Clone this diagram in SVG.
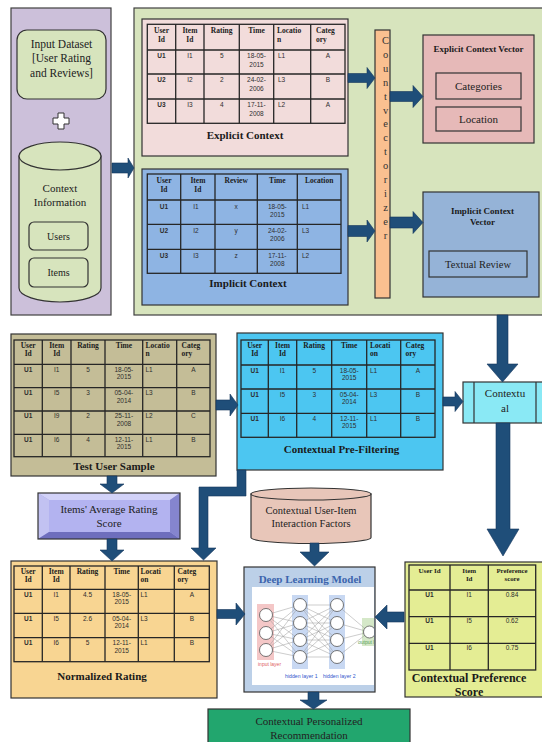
<svg xmlns="http://www.w3.org/2000/svg" width="542" height="742" viewBox="0 0 542 742">
<style>
.pn{stroke:#404040;stroke-width:1.2}
.bx{stroke:#333;stroke-width:1.2}
.grid{fill:none;stroke:#262626;stroke-width:1.3}
.arr{fill:#1f4e79;stroke:#16365c;stroke-width:0.6}
.th{font-family:"Liberation Serif",serif;font-weight:bold;font-size:7.5px;fill:#1c1c1c;text-anchor:middle}
.td{font-family:"Liberation Sans",sans-serif;font-size:6.5px;fill:#2e2e2e;text-anchor:middle}
.tb{font-weight:bold}
.ttl{font-family:"Liberation Serif",serif;font-weight:bold;font-size:11px;fill:#1a1a1a;text-anchor:middle}
.lbl{font-family:"Liberation Serif",serif;font-size:11px;fill:#222;text-anchor:middle}
.l{text-anchor:start}
.node{fill:#fff;stroke:#555;stroke-width:0.8}
.nn{font-family:"Liberation Sans",sans-serif;font-size:5.2px}
</style>
<defs>
<clipPath id="dlclip"><rect x="252" y="587" width="122" height="98"/></clipPath>
</defs>
<rect width="542" height="742" fill="#fff"/>

<g id="left-panel">
<rect x="11" y="8" width="100" height="307" fill="#ccc0da" class="pn"/>
</g>
<g id="input-dataset">
<rect x="17" y="30" width="89" height="69" rx="10" fill="#d7e4bd" class="bx"/>
<text class="lbl" x="61.5" y="48" style="font-size:11.5px">Input Dataset</text>
<text class="lbl" x="61.5" y="62" style="font-size:11.5px">[User Rating</text>
<text class="lbl" x="61.5" y="76.5" style="font-size:11.5px">and Reviews]</text>
</g>
<g id="plus">
<path d="M58 113H64V118H69V124H64V129H58V124H53V118H58Z" fill="#fff" stroke="#333" stroke-width="1"/>
</g>
<g id="context-info">
<path d="M19 156V288A41 14 0 0 0 101 288V156Z" fill="#d7e4bd" class="bx"/>
<ellipse cx="60" cy="156" rx="41" ry="14" fill="#d7e4bd" class="bx"/>
<text class="lbl" x="60" y="192">Context</text>
<text class="lbl" x="60" y="206">Information</text>
<rect x="29" y="222" width="59" height="28" rx="5" fill="#d7e4bd" class="bx"/>
<text class="lbl" x="58.5" y="240" style="font-size:10px">Users</text>
<rect x="29" y="258" width="59" height="29" rx="5" fill="#d7e4bd" class="bx"/>
<text class="lbl" x="58.5" y="276" style="font-size:10px">Items</text>
</g>

<g id="green-panel">
<rect x="134" y="8" width="416" height="307" fill="#d7e4bd" class="pn"/>
</g>

<g id="explicit-context">
<rect x="142" y="19" width="206" height="137" fill="#f2dcdb" class="bx"/>
<rect x="147.3" y="24.3" width="197.7" height="99" class="grid"/>
<path class="grid" d="M175.7 24.3V123.3M204 24.3V123.3M239.3 24.3V123.3M273.7 24.3V123.3M310.7 24.3V123.3M147.3 50H345M147.3 74H345M147.3 99H345"/>
<text class="th" x="161.5" y="33">User</text><text class="th" x="161.5" y="42">Id</text>
<text class="th" x="189.9" y="33">Item</text><text class="th" x="189.9" y="42">Id</text>
<text class="th" x="221.7" y="33">Rating</text>
<text class="th" x="256.5" y="33">Time</text>
<text class="th l" x="277" y="33">Locatio</text><text class="th l" x="277" y="42">n</text>
<text class="th l" x="316" y="33">Categ</text><text class="th l" x="316" y="42">ory</text>
<text class="td tb" x="161.5" y="58">U1</text><text class="td" x="189.9" y="58">I1</text><text class="td" x="221.7" y="58">5</text><text class="td" x="256.5" y="58">18-05-</text><text class="td" x="256.5" y="66.5">2015</text><text class="td l" x="278" y="58">L1</text><text class="td" x="327.9" y="58">A</text>
<text class="td tb" x="161.5" y="82">U2</text><text class="td" x="189.9" y="82">I2</text><text class="td" x="221.7" y="82">2</text><text class="td" x="256.5" y="82">24-02-</text><text class="td" x="256.5" y="90.5">2006</text><text class="td l" x="278" y="82">L3</text><text class="td" x="327.9" y="82">B</text>
<text class="td tb" x="161.5" y="107">U3</text><text class="td" x="189.9" y="107">I3</text><text class="td" x="221.7" y="107">4</text><text class="td" x="256.5" y="107">17-11-</text><text class="td" x="256.5" y="115.5">2008</text><text class="td l" x="278" y="107">L2</text><text class="td" x="327.9" y="107">A</text>
<text class="ttl" x="245" y="139">Explicit Context</text>
</g>

<g id="implicit-context">
<rect x="142" y="169" width="206" height="136" fill="#8eb4e3" class="bx"/>
<rect x="147.3" y="174" width="193.7" height="99.3" class="grid"/>
<path class="grid" d="M180.7 174V273.3M215 174V273.3M257.3 174V273.3M297.3 174V273.3M147.3 200H341M147.3 224.3H341M147.3 249.3H341"/>
<text class="th" x="164" y="183">User</text><text class="th" x="164" y="192">Id</text>
<text class="th" x="197.9" y="183">Item</text><text class="th" x="197.9" y="192">Id</text>
<text class="th" x="236.2" y="183">Review</text>
<text class="th" x="277.3" y="183">Time</text>
<text class="th" x="319.2" y="183">Location</text>
<text class="td tb" x="164" y="208.5">U1</text><text class="td" x="196" y="208.5">I1</text><text class="td" x="236.2" y="208.5">x</text><text class="td" x="277.3" y="208.5">18-05-</text><text class="td" x="277.3" y="217">2015</text><text class="td l" x="302" y="208.5">L1</text>
<text class="td tb" x="164" y="232.8">U2</text><text class="td" x="196" y="232.8">I2</text><text class="td" x="236.2" y="232.8">y</text><text class="td" x="277.3" y="232.8">24-02-</text><text class="td" x="277.3" y="241.3">2006</text><text class="td l" x="302" y="232.8">L3</text>
<text class="td tb" x="164" y="257.8">U3</text><text class="td" x="196" y="257.8">I3</text><text class="td" x="236.2" y="257.8">z</text><text class="td" x="277.3" y="257.8">17-11-</text><text class="td" x="277.3" y="266.3">2008</text><text class="td l" x="302" y="257.8">L2</text>
<text class="ttl" x="248" y="287">Implicit Context</text>
</g>

<g id="count-vectorizer">
<rect x="375" y="30" width="15" height="268" fill="#fac090" class="bx"/>
<g font-family="Liberation Serif, serif" font-size="10.5" fill="#333" text-anchor="middle">
<text x="385.5" y="44">C</text><text x="385.5" y="57.9">o</text><text x="385.5" y="71.8">u</text><text x="385.5" y="85.7">n</text><text x="385.5" y="99.6">t</text><text x="385.5" y="113.5">v</text><text x="385.5" y="127.4">e</text><text x="385.5" y="141.3">c</text><text x="385.5" y="155.2">t</text><text x="385.5" y="169.1">o</text><text x="385.5" y="183">r</text><text x="385.5" y="196.9">i</text><text x="385.5" y="210.8">z</text><text x="385.5" y="224.7">e</text><text x="385.5" y="238.6">r</text>
</g>
</g>

<g id="explicit-vector">
<rect x="423" y="35" width="111" height="108" fill="#e6b9b8" class="bx"/>
<text class="ttl" x="478.5" y="52" style="font-size:9px">Explicit Context Vector</text>
<rect x="436" y="73" width="85" height="26" fill="#e6b9b8" class="bx"/>
<text class="lbl" x="478.5" y="90">Categories</text>
<rect x="436" y="107" width="85" height="24" fill="#e6b9b8" class="bx"/>
<text class="lbl" x="478.5" y="122.5">Location</text>
</g>

<g id="implicit-vector">
<rect x="423" y="192" width="116" height="105" fill="#95b3d7" class="bx"/>
<text class="ttl" x="482.5" y="214" style="font-size:9px">Implicit Context</text>
<text class="ttl" x="482.5" y="225" style="font-size:9px">Vector</text>
<rect x="429" y="251" width="98" height="26" fill="#95b3d7" class="bx"/>
<text class="lbl" x="478" y="268" style="font-size:10.5px">Textual Review</text>
</g>

<g id="test-user-sample">
<rect x="11" y="334" width="205" height="142" fill="#c4bd97" class="bx"/>
<rect x="14" y="340" width="196" height="116.7" class="grid"/>
<path class="grid" d="M42.3 340V456.7M71 340V456.7M105 340V456.7M142.7 340V456.7M176.7 340V456.7M14 364.3H210M14 387.7H210M14 411H210M14 434.3H210"/>
<text class="th" x="28.2" y="348">User</text><text class="th" x="28.2" y="355.5">Id</text>
<text class="th" x="56.7" y="348">Item</text><text class="th" x="56.7" y="355.5">Id</text>
<text class="th" x="88" y="348">Rating</text>
<text class="th" x="123.9" y="348">Time</text>
<text class="th l" x="145.5" y="348">Locatio</text><text class="th l" x="145.5" y="355.5">n</text>
<text class="th l" x="181.5" y="348">Categ</text><text class="th l" x="181.5" y="355.5">ory</text>
<text class="td tb" x="28.2" y="371.5">U1</text><text class="td" x="56.7" y="371.5">I1</text><text class="td" x="88" y="371.5">5</text><text class="td" x="123.9" y="371.5">18-05-</text><text class="td" x="123.9" y="379">2015</text><text class="td l" x="145.5" y="371.5">L1</text><text class="td" x="193.4" y="371.5">A</text>
<text class="td tb" x="28.2" y="395">U1</text><text class="td" x="56.7" y="395">I5</text><text class="td" x="88" y="395">3</text><text class="td" x="123.9" y="395">05-04-</text><text class="td" x="123.9" y="402.5">2014</text><text class="td l" x="145.5" y="395">L3</text><text class="td" x="193.4" y="395">B</text>
<text class="td tb" x="28.2" y="418.3">U1</text><text class="td" x="56.7" y="418.3">I9</text><text class="td" x="88" y="418.3">2</text><text class="td" x="123.9" y="418.3">25-11-</text><text class="td" x="123.9" y="425.8">2008</text><text class="td l" x="145.5" y="418.3">L2</text><text class="td" x="193.4" y="418.3">C</text>
<text class="td tb" x="28.2" y="441.6">U1</text><text class="td" x="56.7" y="441.6">I6</text><text class="td" x="88" y="441.6">4</text><text class="td" x="123.9" y="441.6">12-11-</text><text class="td" x="123.9" y="449.1">2015</text><text class="td l" x="145.5" y="441.6">L1</text><text class="td" x="193.4" y="441.6">B</text>
<text class="ttl" x="114" y="469.5">Test User Sample</text>
</g>

<g id="pre-filtering">
<rect x="237" y="333" width="206" height="137" fill="#4cc6f1" class="bx"/>
<rect x="241" y="340" width="194" height="97.3" class="grid"/>
<path class="grid" d="M268.3 340V437.3M296.7 340V437.3M331.7 340V437.3M366.7 340V437.3M400.7 340V437.3M241 365H435M241 389H435M241 413.3H435"/>
<text class="th" x="254.7" y="348">User</text><text class="th" x="254.7" y="355.5">Id</text>
<text class="th" x="282.5" y="348">Item</text><text class="th" x="282.5" y="355.5">Id</text>
<text class="th" x="314.2" y="348">Rating</text>
<text class="th" x="349.2" y="348">Time</text>
<text class="th l" x="370" y="348">Locati</text><text class="th l" x="370" y="355.5">on</text>
<text class="th l" x="405.5" y="348">Categ</text><text class="th l" x="405.5" y="355.5">ory</text>
<text class="td tb" x="254.7" y="372.5">U1</text><text class="td" x="282.5" y="372.5">I1</text><text class="td" x="314.2" y="372.5">5</text><text class="td" x="349.2" y="372.5">18-05-</text><text class="td" x="349.2" y="380">2015</text><text class="td l" x="370" y="372.5">L1</text><text class="td" x="417.9" y="372.5">A</text>
<text class="td tb" x="254.7" y="396.5">U1</text><text class="td" x="282.5" y="396.5">I5</text><text class="td" x="314.2" y="396.5">3</text><text class="td" x="349.2" y="396.5">05-04-</text><text class="td" x="349.2" y="404">2014</text><text class="td l" x="370" y="396.5">L3</text><text class="td" x="417.9" y="396.5">B</text>
<text class="td tb" x="254.7" y="420.8">U1</text><text class="td" x="282.5" y="420.8">I6</text><text class="td" x="314.2" y="420.8">4</text><text class="td" x="349.2" y="420.8">12-11-</text><text class="td" x="349.2" y="428.3">2015</text><text class="td l" x="370" y="420.8">L1</text><text class="td" x="417.9" y="420.8">B</text>
<text class="ttl" x="341.5" y="453">Contextual Pre-Filtering</text>
</g>

<g id="contextual">
<rect x="463" y="382" width="85" height="41" fill="#8ae9f5" class="bx"/>
<path d="M474 382V423M536 382V423" stroke="#333" stroke-width="1.2"/>
<text class="lbl" x="505" y="397">Contextu</text>
<text class="lbl" x="505" y="412">al</text>
</g>

<g id="items-average">
<rect x="38" y="493" width="142" height="46" fill="#a3a3e6"/>
<polygon points="38,493 180,493 170,500 49,500" fill="#d2d2f8"/>
<polygon points="38,493 49,500 49,532 38,539" fill="#c2c2f2"/>
<polygon points="38,539 49,532 170,532 180,539" fill="#6e6ebd"/>
<polygon points="180,493 180,539 170,532 170,500" fill="#8585cf"/>
<rect x="49" y="500" width="121" height="32" fill="#b3b3f0"/>
<rect x="38" y="493" width="142" height="46" fill="none" class="bx"/>
<text class="lbl" x="109" y="513">Items' Average Rating</text>
<text class="lbl" x="109" y="527">Score</text>
</g>

<g id="normalized-rating">
<rect x="11" y="561" width="206" height="137" fill="#f8d592" class="bx"/>
<rect x="14" y="566" width="195.3" height="95.7" class="grid"/>
<path class="grid" d="M42.3 566V661.7M70 566V661.7M105 566V661.7M138.3 566V661.7M174.3 566V661.7M14 589.3H209.3M14 613.3H209.3M14 637.7H209.3"/>
<text class="th" x="28.2" y="574">User</text><text class="th" x="28.2" y="581.5">Id</text>
<text class="th" x="56.2" y="574">Item</text><text class="th" x="56.2" y="581.5">Id</text>
<text class="th" x="87.5" y="574">Rating</text>
<text class="th" x="121.7" y="574">Time</text>
<text class="th l" x="140.5" y="574">Locati</text><text class="th l" x="140.5" y="581.5">on</text>
<text class="th l" x="177.5" y="574">Categ</text><text class="th l" x="177.5" y="581.5">ory</text>
<text class="td tb" x="28.2" y="596.8">U1</text><text class="td" x="56.2" y="596.8">I1</text><text class="td" x="87.5" y="596.8">4.5</text><text class="td" x="121.7" y="596.8">18-05-</text><text class="td" x="121.7" y="604.3">2015</text><text class="td l" x="140.5" y="596.8">L1</text><text class="td" x="191.8" y="596.8">A</text>
<text class="td tb" x="28.2" y="620.8">U1</text><text class="td" x="56.2" y="620.8">I5</text><text class="td" x="87.5" y="620.8">2.6</text><text class="td" x="121.7" y="620.8">05-04-</text><text class="td" x="121.7" y="628.3">2014</text><text class="td l" x="140.5" y="620.8">L3</text><text class="td" x="191.8" y="620.8">B</text>
<text class="td tb" x="28.2" y="645.2">U1</text><text class="td" x="56.2" y="645.2">I6</text><text class="td" x="87.5" y="645.2">5</text><text class="td" x="121.7" y="645.2">12-11-</text><text class="td" x="121.7" y="652.7">2015</text><text class="td l" x="140.5" y="645.2">L1</text><text class="td" x="191.8" y="645.2">B</text>
<text class="ttl" x="102" y="680">Normalized Rating</text>
</g>

<g id="interaction-factors">
<path d="M251 494V537.5A60 6 0 0 0 371 537.5V494Z" fill="#e8c6b9" class="bx"/>
<ellipse cx="311" cy="494" rx="60" ry="6" fill="#e8c6b9" class="bx"/>
<text class="lbl" x="311" y="513.5" style="font-size:10.5px">Contextual User-Item</text>
<text class="lbl" x="311" y="527" style="font-size:10.5px">Interaction  Factors</text>
</g>

<g id="deep-learning">
<rect x="244" y="567" width="131" height="125" fill="#bcd0e8" class="bx"/>
<rect x="252" y="587" width="122" height="98" fill="#fff"/>
<text class="ttl" x="310" y="583" style="fill:#3b64ad">Deep  Learning Model</text>
<g clip-path="url(#dlclip)">
<rect x="257" y="604" width="17" height="56" fill="#f4c7c7"/>
<rect x="292" y="595" width="16" height="74" fill="#c8d8f2"/>
<rect x="329" y="595" width="16" height="74" fill="#c8d8f2"/>
<rect x="362" y="618" width="14" height="28" fill="#d5e8c8"/>
<path fill="none" stroke="#9a9a9a" stroke-width="0.5" d="M266 615L300 605M266 615L300 623M266 615L300 640M266 615L300 657M266 633L300 605M266 633L300 623M266 633L300 640M266 633L300 657M266 650L300 605M266 650L300 623M266 650L300 640M266 650L300 657M300 605L337 605M300 605L337 623M300 605L337 640M300 605L337 657M300 623L337 605M300 623L337 623M300 623L337 640M300 623L337 657M300 640L337 605M300 640L337 623M300 640L337 640M300 640L337 657M300 657L337 605M300 657L337 623M300 657L337 640M300 657L337 657M337 605L369 632M337 623L369 632M337 640L369 632M337 657L369 632"/>
<circle class="node" cx="266" cy="615" r="6.5"/><circle class="node" cx="266" cy="633" r="6.5"/><circle class="node" cx="266" cy="650" r="6.5"/>
<circle class="node" cx="300" cy="605" r="6.5"/><circle class="node" cx="300" cy="623" r="6.5"/><circle class="node" cx="300" cy="640" r="6.5"/><circle class="node" cx="300" cy="657" r="6.5"/>
<circle class="node" cx="337" cy="605" r="6.5"/><circle class="node" cx="337" cy="623" r="6.5"/><circle class="node" cx="337" cy="640" r="6.5"/><circle class="node" cx="337" cy="657" r="6.5"/>
<circle class="node" cx="369.5" cy="632" r="6"/>
</g>
<text class="nn" x="258" y="666" fill="#e06060" style="font-size:5px">input layer</text>
<text class="nn" x="285" y="678" fill="#3355cc">hidden layer 1</text>
<text class="nn" x="323" y="678" fill="#3355cc">hidden layer 2</text>
<text class="nn" x="358" y="644" fill="#5aa05a" style="font-size:5px">output l</text>
</g>

<g id="preference-score">
<rect x="405" y="562" width="142" height="135" fill="#e4ed94" class="bx"/>
<rect x="409" y="565" width="126.7" height="105" class="grid"/>
<path class="grid" d="M450 565V670M488.3 565V670M409 590H535.7M409 616.7H535.7M409 643.3H535.7"/>
<text class="th" x="429.5" y="573" style="font-size:7px">User Id</text>
<text class="th" x="469.2" y="573" style="font-size:7px">Item</text><text class="th" x="469.2" y="581" style="font-size:7px">Id</text>
<text class="th" x="512" y="573" style="font-size:6.8px">Preference</text><text class="th" x="512" y="581" style="font-size:6.8px">score</text>
<text class="td tb" x="429.5" y="596.5">U1</text><text class="td" x="469.2" y="596.5">I1</text><text class="td" x="512" y="596.5">0.84</text>
<text class="td tb" x="429.5" y="623.2">U1</text><text class="td" x="469.2" y="623.2">I5</text><text class="td" x="512" y="623.2">0.62</text>
<text class="td tb" x="429.5" y="649.8">U1</text><text class="td" x="469.2" y="649.8">I6</text><text class="td" x="512" y="649.8">0.75</text>
<text class="ttl" x="469" y="682" style="font-size:12px">Contextual Preference</text>
<text class="ttl" x="469" y="695.5" style="font-size:12px">Score</text>
</g>

<g id="recommendation">
<rect x="208" y="709" width="202" height="40" fill="#22a66e" class="bx"/>
<text class="lbl" x="309" y="725">Contextual Personalized</text>
<text class="lbl" x="309" y="739">Recommendation</text>
</g>

<g id="connectors">
<path class="arr" d="M112 163L128 163L128 158L134 168L128 178L128 173L112 173Z"/>
<path class="arr" d="M348 73.5L367 73.5L367 67.5L375 78L367 88.5L367 82.5L348 82.5Z"/>
<path class="arr" d="M348 225.5L367 225.5L367 220L375 231L367 242L367 236.5L348 236.5Z"/>
<path class="arr" d="M390 91.5L413 91.5L413 85.5L423 96.5L413 107.5L413 101.5L390 101.5Z"/>
<path class="arr" d="M390 217L413 217L413 211.5L423 222.5L413 233.5L413 228L390 228Z"/>
<path class="arr" d="M216 400L230 400L230 394L238 405L230 416L230 410L216 410Z"/>
<path class="arr" d="M443 397L455 397L455 391.5L463 401.5L455 411.5L455 406L443 406Z"/>
<path class="arr" d="M497 315L497 364L487 364L502.5 382L518 364L508 364L508 315Z"/>
<path class="arr" d="M496 423L496 529L487 529L503 556L519 529L510 529L510 423Z"/>
<path class="arr" d="M107 476L107 484L100 484L112 493L124 484L117 484L117 476Z"/>
<path class="arr" d="M107 539L107 550L100 550L112 561L124 550L117 550L117 539Z"/>
<path class="arr" d="M246 470L246 496L208 496L208 548L216 548L203.5 560L191 548L199 548L199 487L237 487L237 470Z"/>
<path class="arr" d="M217 609.5L236 609.5L236 603L245 614L236 625L236 618.5L217 618.5Z"/>
<path class="arr" d="M404 612L387 612L387 605L375 617L387 629L387 622L404 622Z"/>
<path class="arr" d="M310 543L310 552L300 552L314.5 566L329 552L319 552L319 543Z"/>
<path class="arr" d="M308 692L308 700L300 700L313.5 709L327 700L319 700L319 692Z"/>
</g>
</svg>
